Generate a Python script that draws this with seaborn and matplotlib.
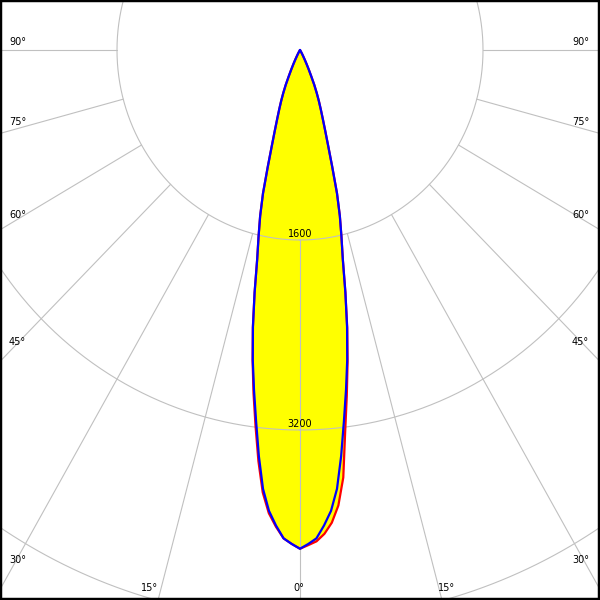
import numpy as np
import pandas as pd
import matplotlib
matplotlib.use("Agg")
import matplotlib.pyplot as plt
import seaborn as sns

# ============================================================================
# DATA  (luminous intensity in cd)
# ============================================================================

gammas = [0, 1, 2, 3, 4, 5, 6, 7, 8, 9, 10, 11, 12, 13, 14, 15, 16, 17, 18, 19,
          20, 21, 22, 23, 24, 25, 26, 27, 28, 29, 30, 32, 35, 90]

# C0 / C180 plane (red)
c0 = [4200, 4170, 4140, 4080, 3990, 3850, 3620, 3240, 2940, 2660,
      2380, 2080, 1800, 1610, 1440, 1250, 1020, 840, 710, 610,
      530, 460, 390, 320, 240, 180, 130, 90, 60, 40, 25, 10, 0, 0]
c180 = [4200, 4160, 4115, 4020, 3910, 3740, 3480, 3190, 2920, 2650,
        2375, 2080, 1800, 1610, 1440, 1250, 1020, 840, 710, 610,
        530, 460, 390, 320, 240, 180, 130, 90, 60, 40, 25, 10, 0, 0]

# C90 / C270 plane (blue)
c90 = [4200, 4160, 4115, 4010, 3890, 3710, 3440, 3150, 2890, 2640,
       2370, 2080, 1800, 1610, 1440, 1250, 1020, 840, 710, 610,
       530, 460, 390, 320, 240, 180, 130, 90, 60, 40, 25, 10, 0, 0]
c270 = [4200, 4160, 4115, 4010, 3890, 3710, 3440, 3150, 2890, 2640,
        2370, 2080, 1800, 1610, 1440, 1250, 1020, 840, 710, 610,
        530, 460, 390, 320, 240, 180, 130, 90, 60, 40, 25, 10, 0, 0]

ring_values = [1600, 3200, 4800]
ring_labels = ["1600", "3200"]

ray_angles = [-90, -75, -60, -45, -30, -15, 0, 15, 30, 45, 60, 75, 90]
side_labels = ["90°", "75°", "60°", "45°", "30°"]
bottom_labels = ["15°", "0°", "15°"]

# ============================================================================
# GEOMETRY  (pixel scale of the original diagram)
# ============================================================================

W = H = 600
px_x = 183 / 1600          # pixels per cd, horizontal
px_y = 190 / 1600          # pixels per cd, vertical
cx, cy = 300, 50           # pixel position of the lamp

grey = "#c0c0c0"


def polar_xy(angles, values):
    a = np.radians(np.asarray(angles, dtype=float))
    v = np.asarray(values, dtype=float)
    return v * np.sin(a), v * np.cos(a)


def full_curve(left, right):
    ang = [-g for g in gammas[::-1]] + gammas[1:]
    val = left[::-1] + right[1:]
    x, y = polar_xy(ang, val)
    return pd.DataFrame({"x": x, "y": y})


red_df = full_curve(c180, c0)
blue_df = full_curve(c270, c90)

# ============================================================================
# PLOT
# ============================================================================

sns.set_theme(style="white")
plt.rcParams["font.family"] = ["DejaVu Sans"]

fig = plt.figure(figsize=(6, 6), dpi=100)
ax = fig.add_axes([0, 0, 1, 1])

# yellow fill under both planes
ax.fill(red_df["x"], red_df["y"], color="#ffff00", lw=0, zorder=1)
ax.fill(blue_df["x"], blue_df["y"], color="#ffff00", lw=0, zorder=1)

# rings
t = np.linspace(0, 2 * np.pi, 721)
for rv in ring_values:
    ax.plot(rv * np.sin(t), rv * np.cos(t), color=grey, lw=0.8, zorder=2)

# rays, starting on the first ring
for a in ray_angles:
    rx, ry = polar_xy([a, a], [ring_values[0], 20000])
    ax.plot(rx, ry, color=grey, lw=0.8, zorder=2)

# intensity curves
sns.lineplot(data=red_df, x="x", y="y", sort=False, estimator=None,
             color="#ff0000", lw=1.6, ax=ax, zorder=3)
sns.lineplot(data=blue_df, x="x", y="y", sort=False, estimator=None,
             color="#0000ff", lw=1.6, ax=ax, zorder=4)

# ring labels
for rv, lab in zip(ring_values, ring_labels):
    ax.annotate(lab, (0, rv), xytext=(0, 1), textcoords="offset points",
                ha="center", va="bottom", fontsize=7, color="black", zorder=5)

ax.set_xlim(-cx / px_x, (W - cx) / px_x)
ax.set_ylim((H - cy) / px_y, -cy / px_y)
ax.set_xlabel("")
ax.set_ylabel("")
ax.set_xticks([])
ax.set_yticks([])

for s in ax.spines.values():
    s.set_visible(True)
    s.set_color("black")
    s.set_linewidth(3.2)

# angle labels (pixel positions along the frame)
side_y = [42, 122, 215, 342, 560]
for lab, yy in zip(side_labels, side_y):
    fig.text(9 / W, 1 - yy / H, lab, ha="left", va="center", fontsize=7,
             color="black")
    fig.text(589 / W, 1 - yy / H, lab, ha="right", va="center", fontsize=7,
             color="black")

bottom_x = [150, 299, 447]
for lab, xx in zip(bottom_labels, bottom_x):
    fig.text(xx / W, 1 - 588 / H, lab, ha="center", va="center", fontsize=7,
             color="black")

fig.savefig("out.png", dpi=100)
